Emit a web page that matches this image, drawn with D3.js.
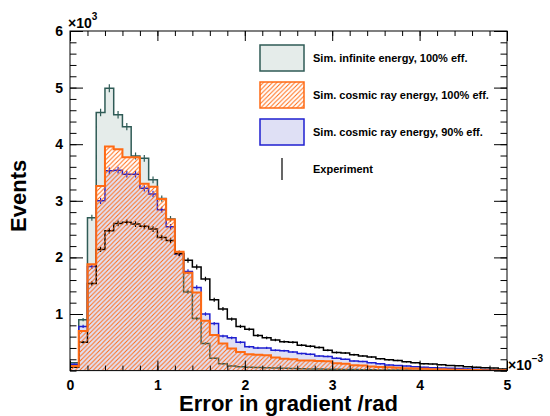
<!DOCTYPE html>
<html>
<head>
<meta charset="utf-8">
<script src="https://cdn.jsdelivr.net/npm/d3@7"></script>
<style>
  body { margin: 0; background: #fff; }
  svg { font-family: "Liberation Sans", Arial, sans-serif; }
  .axis path { display: none; }
  .axis line { stroke: #000; stroke-width: 1; }
  .axis text { font-size: 14px; font-weight: bold; fill: #000; }
</style>
</head>
<body>
<svg width="550" height="416"></svg>
<script>
var width = 550,
    height = 416;

// histogram binning (units of 1e-3 rad)
const nBins = 50;
const xMin = 0;
const xMax = 5;

// bin contents, events per bin
var infiniteEnergy = [140, 900, 2700, 4560, 4990, 4520, 4310, 3790, 3750, 3370,
    3040, 2680, 2070, 1390, 920, 480, 220, 120, 80, 70,
    60, 55, 50, 45, 40, 38, 34, 30, 27, 24,
    22, 20, 18, 16, 14, 12, 11, 10, 9, 8,
    7, 6, 5, 5, 4, 4, 3, 3, 2, 2];
var cosmic100 = [80, 700, 1880, 3260, 3960, 3910, 3770, 3770, 3300, 3250,
    3030, 2670, 2100, 1730, 1380, 880, 630, 480, 390, 330,
    290, 280, 270, 230, 210, 200, 180, 180, 170, 165,
    130, 120, 95, 90, 72, 62, 58, 50, 42, 38,
    32, 26, 22, 19, 15, 12, 10, 8, 6, 4];
var cosmic90 = [110, 780, 1840, 3000, 3530, 3540, 3470, 3470, 3220, 3120,
    2840, 2540, 2060, 1750, 1470, 1000, 830, 610, 580, 500,
    420, 400, 400, 360, 350, 330, 300, 290, 260, 250,
    220, 200, 170, 160, 140, 120, 100, 90, 80, 70,
    60, 52, 45, 40, 35, 30, 25, 20, 15, 10];
var experiment = [60, 500, 1540, 2140, 2470, 2600, 2620, 2590, 2550, 2500,
    2350, 2300, 2070, 1950, 1830, 1620, 1250, 1090, 910, 780,
    730, 620, 580, 540, 510, 500, 450, 430, 410, 360,
    320, 310, 280, 260, 240, 210, 190, 180, 155, 140,
    120, 115, 105, 90, 85, 70, 60, 50, 45, 30];

var xTicks = [0, 1, 2, 3, 4, 5];
var yTicks = [0, 1000, 2000, 3000, 4000, 5000, 6000];
var legendLabels = ["Sim. infinite energy, 100% eff.",
    "Sim. cosmic ray energy, 100% eff.",
    "Sim. cosmic ray energy, 90% eff.",
    "Experiment"];

const infLine = "#2f5b56", infFill = "#e5ecea";
const orange = "#ff6a13";
const blueLine = "#1f1fd0", blueFill = "#dfe0f5";

var margin = { left: 70, right: 43, top: 31, bottom: 45.4 };
var x = d3.scaleLinear().domain([xMin, xMax]).range([margin.left, width - margin.right]);
var y = d3.scaleLinear().domain([0, 6000]).range([height - margin.bottom, margin.top]);
var binW = (xMax - xMin) / nBins;

var svg = d3.select("svg");
var defs = svg.append("defs");

defs.append("clipPath").attr("id", "frame")
    .append("rect")
    .attr("x", x(xMin)).attr("y", y(6000))
    .attr("width", x(xMax) - x(xMin)).attr("height", y(0) - y(6000));

// orange diagonal hatch
defs.append("pattern")
    .attr("id", "hatch")
    .attr("patternUnits", "userSpaceOnUse")
    .attr("width", 4.5).attr("height", 4.5)
    .append("path")
    .attr("d", "M-1,1 l2,-2 M0,4.5 l4.5,-4.5 M3.5,5.5 l2,-2")
    .attr("stroke", orange)
    .attr("stroke-width", 1);

// turn bin contents into step points
function toPoints(values) {
    var pts = [[xMin, 0]];
    values.forEach(function (v, i) {
        pts.push([xMin + i * binW, v]);
    });
    pts.push([xMax, values[values.length - 1]]);
    pts.push([xMax, 0]);
    return pts;
}

var stepLine = d3.line()
    .x(function (d) { return x(d[0]); })
    .y(function (d) { return y(d[1]); })
    .curve(d3.curveStepAfter);

var stepArea = d3.area()
    .x(function (d) { return x(d[0]); })
    .y0(y(0))
    .y1(function (d) { return y(d[1]); })
    .curve(d3.curveStepAfter);

var plot = svg.append("g").attr("clip-path", "url(#frame)");

// fills
plot.append("path").attr("d", stepArea(toPoints(infiniteEnergy))).attr("fill", infFill);
plot.append("path").attr("d", stepArea(toPoints(cosmic100))).attr("fill", "#fff");
plot.append("path").attr("d", stepArea(toPoints(cosmic90))).attr("fill", blueFill);

function drawErrors(values, color) {
    plot.append("g")
        .selectAll("line")
        .data(values)
        .join("line")
        .attr("x1", function (d, i) { return x(xMin + (i + 0.5) * binW); })
        .attr("x2", function (d, i) { return x(xMin + (i + 0.5) * binW); })
        .attr("y1", function (d) { return y(d - Math.sqrt(d)); })
        .attr("y2", function (d) { return y(d + Math.sqrt(d)); })
        .attr("stroke", color)
        .attr("stroke-width", 1.2);
}

function drawLine(values, color, w) {
    plot.append("path")
        .attr("d", stepLine(toPoints(values)))
        .attr("fill", "none")
        .attr("stroke", color)
        .attr("stroke-width", w);
}

drawLine(infiniteEnergy, infLine, 1.5);
drawErrors(infiniteEnergy, infLine);
drawLine(cosmic90, blueLine, 1.5);
drawErrors(cosmic90, blueLine);
drawLine(experiment, "#000", 1.5);
drawErrors(experiment, "#000");

// hatch on top, then orange outline
plot.append("path").attr("d", stepArea(toPoints(cosmic100))).attr("fill", "url(#hatch)");
drawLine(cosmic100, orange, 2);

// axes, ROOT style ticks inside the frame
var minorX = d3.range(0, 26).map(function (i) { return i * 0.2; });
var minorY = d3.range(0, 31).map(function (i) { return i * 200; });

function noLabels(sel) { sel.selectAll("text").remove(); }

svg.append("g").attr("class", "axis")
    .attr("transform", "translate(0," + y(0) + ")")
    .call(d3.axisBottom(x).tickValues(xTicks).tickSize(-10).tickPadding(9).tickFormat(d3.format("d")));
svg.append("g").attr("class", "axis")
    .attr("transform", "translate(0," + y(0) + ")")
    .call(d3.axisBottom(x).tickValues(minorX).tickSize(-5)).call(noLabels);
svg.append("g").attr("class", "axis")
    .attr("transform", "translate(0," + y(6000) + ")")
    .call(d3.axisTop(x).tickValues(xTicks).tickSize(-10)).call(noLabels);
svg.append("g").attr("class", "axis")
    .attr("transform", "translate(0," + y(6000) + ")")
    .call(d3.axisTop(x).tickValues(minorX).tickSize(-5)).call(noLabels);

svg.append("g").attr("class", "axis")
    .attr("transform", "translate(" + x(xMin) + ",0)")
    .call(d3.axisLeft(y).tickValues(yTicks.slice(1)).tickSize(-13).tickPadding(7)
        .tickFormat(function (d) { return d / 1000; }));
svg.append("g").attr("class", "axis")
    .attr("transform", "translate(" + x(xMin) + ",0)")
    .call(d3.axisLeft(y).tickValues(minorY).tickSize(-6.5)).call(noLabels);
svg.append("g").attr("class", "axis")
    .attr("transform", "translate(" + x(xMax) + ",0)")
    .call(d3.axisRight(y).tickValues(yTicks).tickSize(-13)).call(noLabels);
svg.append("g").attr("class", "axis")
    .attr("transform", "translate(" + x(xMax) + ",0)")
    .call(d3.axisRight(y).tickValues(minorY).tickSize(-6.5)).call(noLabels);

// frame
svg.append("rect")
    .attr("x", x(xMin)).attr("y", y(6000))
    .attr("width", x(xMax) - x(xMin)).attr("height", y(0) - y(6000))
    .attr("fill", "none").attr("stroke", "#000").attr("stroke-width", 1);

// axis multipliers
function multiplier(px, py, exp) {
    var t = svg.append("text")
        .attr("x", px).attr("y", py)
        .attr("font-size", 14).attr("font-weight", "bold");
    t.append("tspan").text("\u00d710");
    t.append("tspan").attr("dy", -8).attr("font-size", 10).text(exp);
}
multiplier(x(xMin) - 2, y(6000) - 3, "3");
multiplier(x(xMax) + 1, y(0) - 1, "\u22123");

// titles
svg.append("text")
    .attr("x", (x(xMin) + x(xMax)) / 2).attr("y", 411)
    .attr("text-anchor", "middle")
    .attr("font-size", 22).attr("font-weight", "bold")
    .text("Error in gradient /rad");
svg.append("text")
    .attr("transform", "translate(26," + ((y(0) + y(6000)) / 2 - 5) + ") rotate(-90)")
    .attr("text-anchor", "middle")
    .attr("font-size", 22).attr("font-weight", "bold")
    .text("Events");

// legend
var legendStyles = [
    { fill: infFill, stroke: infLine },
    { fill: "url(#hatch)", stroke: orange },
    { fill: blueFill, stroke: blueLine },
    null
];
var legend = svg.append("g")
    .selectAll("g")
    .data(legendLabels)
    .join("g")
    .attr("transform", function (d, i) { return "translate(260," + (58 + i * 37) + ")"; });

legend.each(function (d, i) {
    var g = d3.select(this);
    var st = legendStyles[i];
    if (st) {
        g.append("rect")
            .attr("x", 0).attr("y", -13)
            .attr("width", 44).attr("height", 26)
            .attr("fill", st.fill)
            .attr("stroke", st.stroke)
            .attr("stroke-width", 1.5);
    } else {
        g.append("line")
            .attr("x1", 22).attr("x2", 22)
            .attr("y1", -11).attr("y2", 11)
            .attr("stroke", "#000").attr("stroke-width", 1.2);
    }
    g.append("text")
        .attr("x", 53).attr("y", 4)
        .attr("font-size", 11).attr("font-weight", "bold")
        .text(d);
});
</script>
</body>
</html>
